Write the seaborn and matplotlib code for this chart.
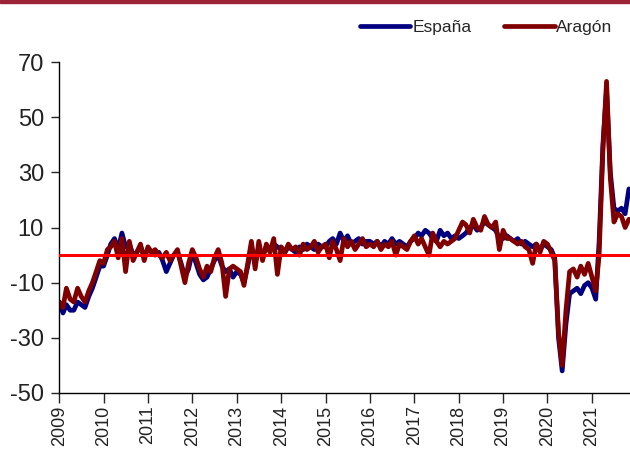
import numpy as np
import pandas as pd
import matplotlib
matplotlib.use("Agg")
import matplotlib.pyplot as plt
import seaborn as sns
from matplotlib.patches import Rectangle
from matplotlib.lines import Line2D

sns.set_theme(style="white")
plt.rcParams['font.family'] = ['Liberation Sans', 'DejaVu Sans']
plt.rcParams['axes.unicode_minus'] = False

# Monthly values, Jan 2009 - Nov 2021
espana = [
    # 2009
    -17, -21, -18, -20, -20, -17, -18, -19, -15, -12, -8, -4,
    # 2010
    -4, 0, 4, 6, 2, 8, 3, 4, 0, 1, 3, 0,
    # 2011
    2, 1, 0, 1, -2, -6, -3, 0, 1, -3, -8, -5,
    # 2012
    1, -3, -7, -9, -8, -5, -2, 0, -4, -6, -5, -8,
    # 2013
    -6, -7, -10, -4, 3, -3, 3, 0, 3, 2, 4, 3,
    # 2014
    2, 1, 3, 2, 1, 3, 2, 4, 3, 2, 4, 3,
    # 2015
    3, 5, 6, 4, 8, 5, 7, 4, 5, 6, 4, 5,
    # 2016
    5, 4, 5, 3, 5, 4, 6, 4, 5, 4, 3, 5,
    # 2017
    6, 8, 7, 9, 8, 6, 5, 9, 7, 8, 6, 7,
    # 2018
    6, 7, 8, 10, 11, 9, 10, 12, 11, 10, 9, 6,
    # 2019
    6, 7, 6, 5, 6, 4, 5, 4, 3, 4, 2, 4,
    # 2020
    3, 2, -1, -30, -42, -25, -14, -13, -12, -14, -11, -10,
    # 2021
    -12, -16, 5, 40, 60, 30, 17, 16, 17, 15, 24,
]
aragon = [
    # 2009
    -17, -19, -12, -16, -17, -12, -15, -17, -13, -10, -6, -2,
    # 2010
    -3, 2, 3, 5, -1, 6, -6, 5, -2, 1, 4, -2,
    # 2011
    3, 1, 2, 0, -1, 1, -2, 0, 2, -4, -10, -3,
    # 2012
    2, -1, -5, -8, -4, -6, -1, 2, -3, -15, -5, -4,
    # 2013
    -5, -6, -11, -3, 5, -5, 5, -2, 4, 1, 6, -7,
    # 2014
    3, 1, 4, 2, 3, 0, 4, 2, 3, 5, 1, 3,
    # 2015
    4, -1, 5, 2, -2, 6, 3, 5, 2, 4, 6, 3,
    # 2016
    4, 3, 5, 2, 4, 3, 5, 0, 4, 3, 2, 5,
    # 2017
    7, 4, 6, 3, 0, 8, 5, 3, 5, 4, 5, 6,
    # 2018
    9, 12, 11, 8, 13, 10, 9, 14, 11, 10, 12, 2,
    # 2019
    9, 6, 6, 5, 4, 5, 3, 2, -3, 4, 1, 5,
    # 2020
    4, 1, -2, -28, -40, -20, -6, -5, -8, -4, -7, -3,
    # 2021
    -8, -13, 0, 38, 63, 28, 12, 15, 14, 10, 13,
]
years = list(range(2009, 2022))
series_names = ["España", "Aragón"]

dates = pd.date_range("2009-01-01", periods=len(espana), freq="MS")
df = pd.DataFrame({"fecha": dates, "España": espana, "Aragón": aragon})
long = df.melt(id_vars="fecha", var_name="serie", value_name="valor")

fig = plt.figure(figsize=(6.3, 4.53), dpi=100)
ax = fig.add_axes([0.094, 0.1325, 0.906, 0.7305])

sns.lineplot(data=long, x="fecha", y="valor", hue="serie", hue_order=series_names,
             palette={"España": "#000080", "Aragón": "#800000"},
             linewidth=3.4, ax=ax, legend=False)
ax.axhline(0, color="#ff0000", linewidth=2.2, zorder=5)

ax.set_ylim(-50, 70)
ax.set_yticks(range(-50, 71, 20))
ax.set_xlim(pd.Timestamp("2009-01-01"), pd.Timestamp("2021-11-10"))
ax.set_xticks([pd.Timestamp(f"{y}-01-01") for y in years])
ax.set_xticklabels([str(y) for y in years], rotation=90, fontsize=13,
                   color="#222222")
ax.tick_params(axis="y", labelsize=17, length=6, width=1, direction="out",
               pad=5, labelcolor="#222222", left=True)
ax.tick_params(axis="x", length=7, width=1, direction="out", pad=2, bottom=True)
ax.set_xlabel("")
ax.set_ylabel("")
for s in ["top", "right"]:
    ax.spines[s].set_visible(False)
for s in ["left", "bottom"]:
    ax.spines[s].set_color("black")
    ax.spines[s].set_linewidth(1)

handles = [Line2D([], [], color="#000080", linewidth=3.4),
           Line2D([], [], color="#800000", linewidth=3.4)]
fig.legend(handles, series_names, loc="center", bbox_to_anchor=(0.772, 0.94),
           ncol=2, frameon=False, fontsize=12.5, handlelength=2.9,
           handletextpad=0.1, columnspacing=1.9)

fig.patches.append(Rectangle((0, 1 - 3 / 453), 1, 3 / 453, transform=fig.transFigure,
                             color="#9b2335", zorder=10))

fig.savefig("out.png", dpi=100)
